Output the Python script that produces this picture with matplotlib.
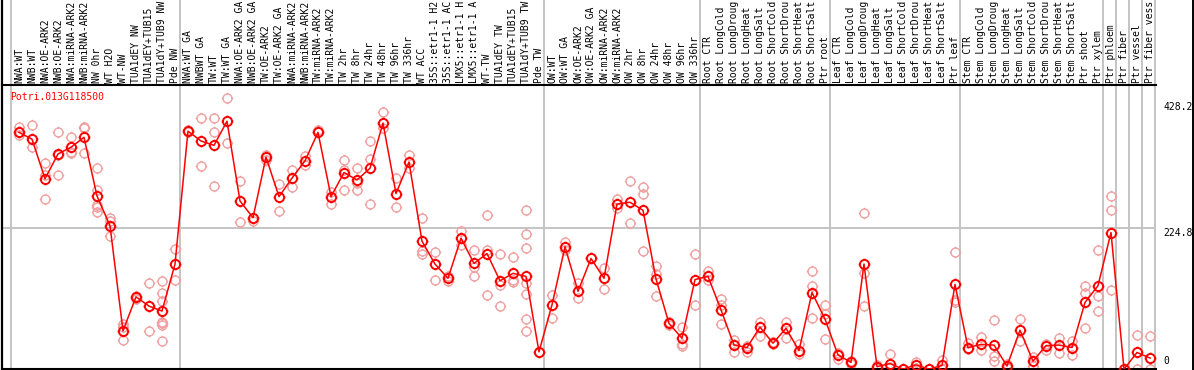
import matplotlib
matplotlib.use("Agg")
import matplotlib.pyplot as plt
import matplotlib.path as mpath
import matplotlib.transforms as mtransforms
from matplotlib.lines import Line2D

# ---------------- data ----------------
title = "Potri.013G118500"

labels_nw = ["NWA:WT", "NWB:WT", "NWA:OE-ARK2", "NWB:OE-ARK2", "NWA:miRNA-ARK2",
             "NWB:miRNA-ARK2", "NW 0hr", "WT H2O", "WT-NW", "TUA1dEY NW",
             "TUA1dEY+TUB15", "TUA1dY+TUB9 NW", "Pde NW"]
labels_tw = ["NWA:WT GA", "NWBWT GA", "TW:WT", "TW:WT GA", "NWA:OE-ARK2 GA",
             "NWB:OE-ARK2 GA", "TW:OE-ARK2", "TW:OE-ARK2 GA", "NWA:miRNA-ARK2",
             "NWB:miRNA-ARK2", "TW:miRNA-ARK2", "TW:miRNA-ARK2", "TW 2hr", "TW 8hr",
             "TW 24hr", "TW 48hr", "TW 96hr", "TW 336hr", "WT ACC", "35S::etr1-1 H2",
             "35S::etr1-1 AC", "LMX5::etr1-1 H", "LMX5::etr1-1 A", "WT-TW",
             "TUA1dEY TW", "TUA1dEY+TUB15", "TUA1dY+TUB9 TW", "Pde TW"]
labels_ow = ["OW:WT", "OW:WT GA", "OW:OE-ARK2", "OW:OE-ARK2 GA", "OW:miRNA-ARK2",
             "OW:miRNA-ARK2", "OW 2hr", "OW 8hr", "OW 24hr", "OW 48hr", "OW 96hr",
             "OW 336hr"]
labels_root = ["Root CTR", "Root LongCold", "Root LongDroug", "Root LongHeat",
               "Root LongSalt", "Root ShortCold", "Root ShortDrou", "Root ShortHeat",
               "Root ShortSalt", "Ptr root"]
labels_leaf = ["Leaf CTR", "Leaf LongCold", "Leaf LongDroug", "Leaf LongHeat",
               "Leaf LongSalt", "Leaf ShortCold", "Leaf ShortDrou", "Leaf ShortHeat",
               "Leaf ShortSalt", "Ptr leaf"]
labels_stem = ["Stem CTR", "Stem LongCold", "Stem LongDroug", "Stem LongHeat",
               "Stem LongSalt", "Stem ShortCold", "Stem ShortDrou", "Stem ShortHeat",
               "Stem ShortSalt", "Ptr shoot", "Ptr xylem"]
labels_phloem = ["Ptr phloem"]
labels_fiber = ["Ptr fiber"]
labels_vessel = ["Ptr vessel"]
labels_fibves = ["Ptr fiber vess"]

groups = [labels_nw, labels_tw, labels_ow, labels_root, labels_leaf, labels_stem,
          labels_phloem, labels_fiber, labels_vessel, labels_fibves]

means_nw = [379, 368, 304, 344, 355, 371, 276, 228, 58, 113, 98, 90, 166]
means_tw = [381, 365, 358, 397, 268, 241, 339, 275, 305, 333, 379, 275, 314, 302,
            321, 394, 280, 331, 203, 166, 143, 208, 167, 183, 139, 151, 146, 24]
means_ow = [100, 194, 122, 175, 143, 263, 266, 253, 142, 70, 46, 141]
means_root = [146, 92, 35, 31, 64, 38, 62, 26, 120, 77]
means_leaf = [19, 7, 166, 0, 5, -4, 3, -4, 2, 133]
means_stem = [31, 36, 35, 1, 59, 9, 34, 35, 31, 104, 131]
means_ptr = [217, -4, 23, 14]

reps_nw = [[387, 374, 380], [391, 356], [329, 310, 271], [379, 310, 343],
           [372, 345, 348], [388, 386, 345], [321, 286, 262, 259, 251],
           [240, 235, 211], [69, 65, 43], [115, 110], [135, 98, 58],
           [139, 120, 106, 73, 70, 67, 42], [190, 141]]
reps_tw = [[383, 379], [403, 325], [403, 379, 292], [434, 361], [300, 234], [235, 240],
           [343, 335], [295, 252], [318, 290], [340, 326], [383, 380], [283, 263],
           [335, 318, 286], [321, 297, 286], [365, 336, 263], [412, 386], [305, 258],
           [342, 321], [240, 187, 183], [185, 141], [146, 139], [220, 197],
           [189, 162, 147], [245, 189, 116], [183, 132, 98], [177, 140, 137],
           [253, 214, 192, 135, 118, 77, 58], [24]]
reps_ow = [[116, 78], [202, 188], [136, 111], [175], [159, 125], [272, 256],
           [300, 232], [290, 279, 187], [163, 150, 114], [72, 68], [64, 37, 33],
           [183, 100]]
reps_root = [[154, 141], [109, 100, 69], [43, 23], [33, 24], [73, 50], [40, 36],
             [72, 46], [37, 21], [155, 130, 78], [100, 86, 44]]
reps_leaf = [[22, 12], [9, 5], [248, 151, 98], [2, -2], [20, -1], [-3], [8, -2],
             [-4], [11, -3], [185, 108, 104]]
reps_stem = [[38, 28], [48, 27], [76, 17, 10], [4, -2], [77, 42], [16, 1], [27, 36],
             [46, 22], [42, 19], [131, 119, 62], [188, 114, 90]]
reps_ptr = [[276, 253, 124], [-4], [51, -3], [49, -4]]

axis_marks = [428.2, 224.8, 0]

# ---------------- assemble ----------------
labels = [l for g in groups for l in g]
means = means_nw + means_tw + means_ow + means_root + means_leaf + means_stem + means_ptr
reps = reps_nw + reps_tw + reps_ow + reps_root + reps_leaf + reps_stem + reps_ptr
xs = list(range(len(labels)))

W, H = 1194, 370
fig = plt.figure(figsize=(W / 100, H / 100), dpi=100)
fig.patch.set_facecolor("white")

ax_left_px, ax_right_px = 2, 1155.7
ax_top_px, ax_bot_px = 85, 369
ax = fig.add_axes([ax_left_px / W, (H - ax_bot_px) / H,
                   (ax_right_px - ax_left_px) / W, (ax_bot_px - ax_top_px) / H])

# column i sits at pixel 19 + 13*i
x0_px, dx_px = 19.0, 13.0
ax.set_xlim((ax_left_px - x0_px) / dx_px, (ax_right_px - x0_px) / dx_px)
# value v sits at pixel 366.7 - 0.6183*v
y0_px, sy = 366.7, 0.6183
ax.set_ylim((y0_px - ax_bot_px) / sy, (y0_px - ax_top_px) / sy)
ax.set_xticks([])
ax.set_yticks([])
for s in ["right", "left"]:
    ax.spines[s].set_visible(False)
ax.spines["bottom"].set_linewidth(1.5)
ax.spines["top"].set_linewidth(1.5)
ax.spines["top"].set_color("black")

gray = "#c4c4c4"
trans = mtransforms.blended_transform_factory(ax.transData, ax.transAxes)
top_ext = 1 + ax_top_px / (ax_bot_px - ax_top_px)

# group separators
bounds = [-0.6]
acc = 0
for g in groups:
    acc += len(g)
    bounds.append(acc - 0.6)
for b in bounds:
    ax.plot([b, b], [0, top_ext], transform=trans, color=gray, lw=1.4,
            clip_on=False, zorder=1)

# horizontal reference line
ax.axhline(axis_marks[1], color=gray, lw=1.4, zorder=1)

# borders
fig.add_artist(Line2D([1.5 / W, 1.5 / W], [0, 1], color="black", lw=1.6))
fig.add_artist(Line2D([1193 / W, 1193 / W], [0, 1], color="black", lw=1.4))

# marker: circle with small ticks
circ = mpath.Path.unit_circle()
verts = list(circ.vertices)
codes = list(circ.codes)
for ddx, ddy in [(1, 0), (-1, 0), (0, 1), (0, -1)]:
    verts += [(ddx * 1.0, ddy * 1.0), (ddx * 1.28, ddy * 1.28)]
    codes += [mpath.Path.MOVETO, mpath.Path.LINETO]
sun = mpath.Path(verts, codes)

# replicates
rx, ry = [], []
for x, r in zip(xs, reps):
    for v in r:
        rx.append(x)
        ry.append(v)
ax.plot(rx, ry, linestyle="none", marker=sun, markersize=8.2, markerfacecolor="none",
        markeredgecolor="#f0a0a0", markeredgewidth=1.0, zorder=2)

# mean line + markers
ax.plot(xs, means, color="#ff0000", lw=1.1, zorder=3)
ax.plot(xs, means, linestyle="none", marker=sun, markersize=8.4, markerfacecolor="none",
        markeredgecolor="#ff0000", markeredgewidth=1.4, zorder=4)

mono = "DejaVu Sans Mono"
fs = 7.0
# column labels
for x, lab in zip(xs, labels):
    ax.annotate(lab, xy=(x, 1), xycoords=trans, xytext=(0, 1.2),
                textcoords="offset points", rotation=90, ha="center", va="bottom",
                fontsize=fs, family=mono, color="black", annotation_clip=False)

# title
fig.text(10 / W, 1 - 97 / H, title, color="#ff0000", fontsize=fs, family=mono,
         ha="left", va="center")

# right-hand value labels
for v in axis_marks:
    ypx = y0_px - sy * v
    if v == 0:
        fig.text(1163 / W, 1 - (ypx - 0.5) / H, "0", fontsize=fs, family=mono,
                 ha="left", va="bottom")
    else:
        fig.text(1163 / W, 1 - (ypx + 0.5) / H, f"{v:.1f}", fontsize=fs, family=mono,
                 ha="left", va="top")

fig.savefig("out.png", dpi=100)
